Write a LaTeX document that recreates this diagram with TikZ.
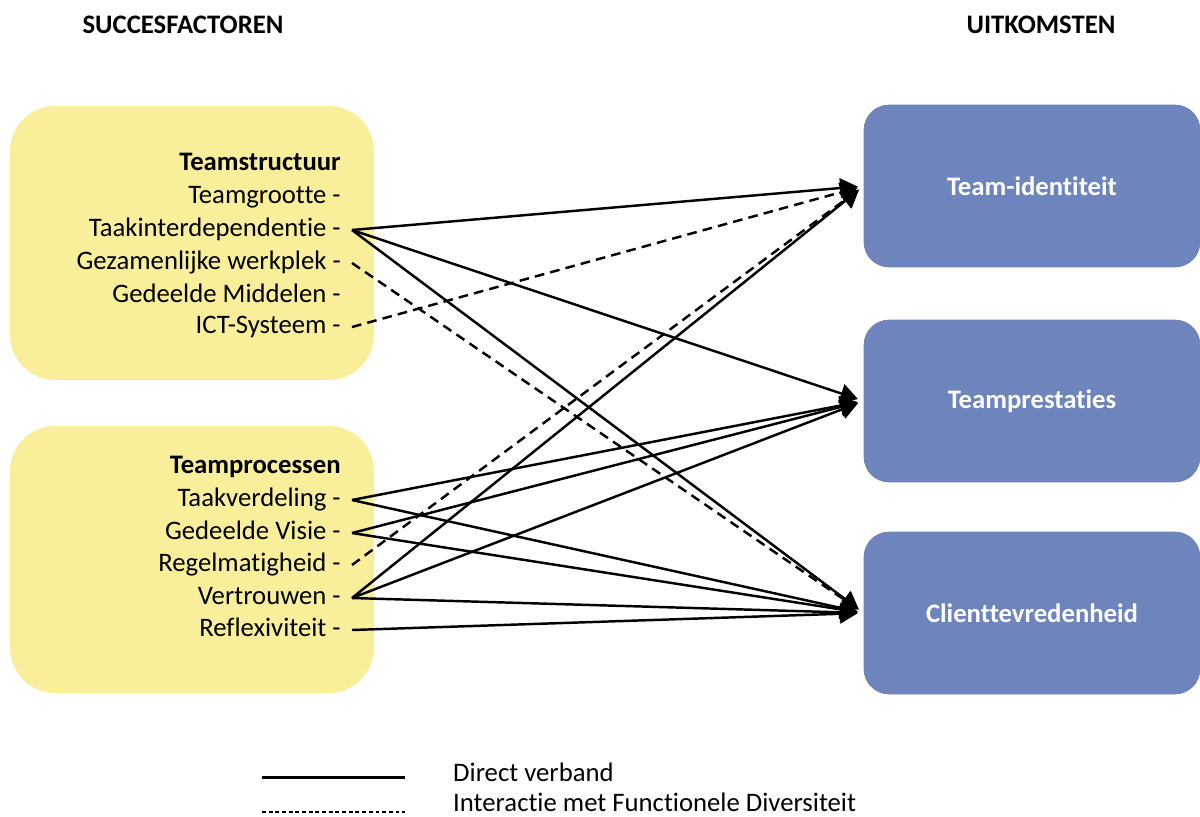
\documentclass[tikz,border=0pt]{standalone}
\usepackage{fontspec}
\setmainfont{Carlito}[Ligatures=NoCommon]
\usetikzlibrary{arrows.meta, positioning}

\definecolor{factoryellow}{HTML}{F9EF9B}
\definecolor{outcomeblue}{HTML}{6E84BD}

\begin{document}
\begin{tikzpicture}[x=0.02cm, y=-0.02cm]

  % Define styles
  \tikzstyle{heading} = [font=\fontsize{15.2}{18}\selectfont\bfseries]
  \tikzstyle{group} = [rectangle, rounded corners=0.9cm, fill=factoryellow, minimum width=7.28cm]
  \tikzstyle{factor} = [anchor=east, inner xsep=0.22cm, inner ysep=0pt, text height=0.9em, text depth=0.12em, font=\fontsize{15.2}{18}\selectfont]
  \tikzstyle{outcome} = [rectangle, rounded corners=0.5cm, fill=outcomeblue, draw=outcomeblue!80!gray, text=white, minimum width=6.72cm, minimum height=3.24cm, font=\fontsize{15.2}{18}\selectfont\bfseries]
  \tikzstyle{direct} = [draw, line width=1.4pt, -{Triangle[length=10pt,width=11pt]}, shorten >=0.12cm]
  \tikzstyle{interaction} = [direct, dash pattern=on 5.5pt off 3.5pt]
  \tikzstyle{legend_text} = [anchor=west, inner ysep=0pt, font=\fontsize{15.2}{18}\selectfont]

  \useasboundingbox (0,0) rectangle (1200,816);

  % Labels
  \node[heading] (succes) at (183, 25) {SUCCESFACTOREN};
  \node[heading] (uitkomst) at (1041, 25) {UITKOMSTEN};

  % Succesfactoren
  \node[group, minimum height=5.48cm] (structbox) at (192, 243) {};
  \node[group, minimum height=5.34cm] (procbox) at (192, 559.5) {};

  \node[factor, font=\fontsize{15.2}{18}\selectfont\bfseries] (struct) at (352, 164) {Teamstructuur};
  \node[factor] (grootte) at (352, 197) {Teamgrootte -};
  \node[factor] (interdep) at (352, 230) {Taakinterdependentie -};
  \node[factor] (werkplek) at (352, 263) {Gezamenlijke werkplek -};
  \node[factor] (middelen) at (352, 296) {Gedeelde Middelen -};
  \node[factor] (ict) at (352, 327) {ICT-Systeem -};

  \node[factor, font=\fontsize{15.2}{18}\selectfont\bfseries] (proc) at (352, 467) {Teamprocessen};
  \node[factor] (verdeling) at (352, 500) {Taakverdeling -};
  \node[factor] (visie) at (352, 533) {Gedeelde Visie -};
  \node[factor] (regel) at (352, 565) {Regelmatigheid -};
  \node[factor] (vertrouwen) at (352, 598) {Vertrouwen -};
  \node[factor] (reflex) at (352, 630) {Reflexiviteit -};

  % Uitkomsten
  \node[outcome] (identiteit) at (1032, 186) {Team-identiteit};
  \node[outcome] (prestaties) at (1032, 401) {Teamprestaties};
  \node[outcome] (client) at (1032, 613) {Clienttevredenheid};

  % Teamstructuur connections
  \draw[direct] (interdep.east) -- (identiteit.west);
  \draw[direct] (interdep.east) -- (prestaties.west);
  \draw[direct] (interdep.east) -- (client.west);
  \draw[interaction] (werkplek.east) -- (client.west);
  \draw[interaction] (ict.east) -- (identiteit.west);

  % Teamprocessen connections
  \draw[direct] (verdeling.east) -- (prestaties.west);
  \draw[direct] (verdeling.east) -- (client.west);
  \draw[direct] (visie.east) -- (prestaties.west);
  \draw[direct] (visie.east) -- (client.west);
  \draw[interaction] (regel.east) -- (identiteit.west);
  \draw[direct] (vertrouwen.east) -- (identiteit.west);
  \draw[direct] (vertrouwen.east) -- (prestaties.west);
  \draw[direct] (vertrouwen.east) -- (client.west);
  \draw[direct] (reflex.east) -- (client.west);

  % Legend
  \coordinate (solid_a) at (262, 777);
  \coordinate (solid_b) at (405, 777);
  \coordinate (dash_a) at (262, 812);
  \coordinate (dash_b) at (405, 812);
  \draw[line width=1.7pt] (solid_a) -- (solid_b);
  \draw[line width=0.6pt, dash pattern=on 2.2pt off 1.6pt] (dash_a) -- (dash_b);
  \node[legend_text] (direct_lbl) at (447, 772) {Direct verband};
  \node[legend_text] (inter_lbl) at (447, 802) {Interactie met Functionele Diversiteit};

\end{tikzpicture}
\end{document}
